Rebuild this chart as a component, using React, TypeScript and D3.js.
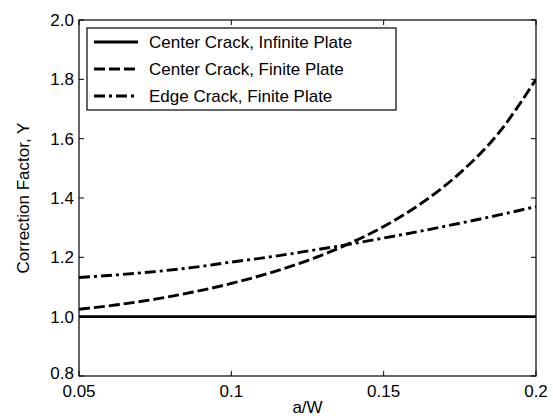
import React from 'react';
import * as d3 from 'd3';

// a/W sample points
const aw = [0.05, 0.0625, 0.075, 0.0875, 0.1, 0.1125, 0.125, 0.1375, 0.15, 0.1625, 0.175, 0.1875, 0.2];
const infinitePlate = [1, 1, 1, 1, 1, 1, 1, 1, 1, 1, 1, 1, 1];
const centerFinite = [1.025, 1.04, 1.059, 1.083, 1.112, 1.147, 1.189, 1.241, 1.304, 1.383, 1.484, 1.616, 1.8];
const edgeFinite = [1.132, 1.141, 1.152, 1.166, 1.184, 1.201, 1.221, 1.242, 1.265, 1.289, 1.315, 1.342, 1.371];

const xTicks = [0.05, 0.1, 0.15, 0.2];
const xTickLabels = ['0.05', '0.1', '0.15', '0.2'];
const yTicks = [0.8, 1.0, 1.2, 1.4, 1.6, 1.8, 2.0];
const seriesNames = ['Center Crack, Infinite Plate', 'Center Crack, Finite Plate', 'Edge Crack, Finite Plate'];

const W = 553;
const H = 416;
const margin = { left: 79, right: 17, top: 20, bottom: 40 };
const FONT = 'Liberation Sans, Arial, Helvetica, sans-serif';

const dashes = ['none', '11,4', '11,4,3,4'];

export default function App() {
  const x = d3.scaleLinear().domain([0.05, 0.2]).range([margin.left, W - margin.right]);
  const y = d3.scaleLinear().domain([0.8, 2.0]).range([H - margin.bottom, margin.top]);

  const line = d3.line<[number, number]>()
    .x(d => x(d[0]))
    .y(d => y(d[1]))
    .curve(d3.curveMonotoneX);

  const series = [infinitePlate, centerFinite, edgeFinite].map(vals =>
    aw.map((a, i) => [a, vals[i]] as [number, number])
  );

  const [x0, x1] = x.range();
  const [y0, y1] = y.range();
  const tickLen = 5;

  return (
    <div style={{ position: 'absolute', left: 0, top: 0 }}>
      <svg width={W} height={H} style={{ display: 'block', background: '#fff' }} fontFamily={FONT}>
        <defs>
          <clipPath id="plot">
            <rect x={x0} y={y1} width={x1 - x0} height={y0 - y1} />
          </clipPath>
        </defs>

        {/* data lines */}
        <g clipPath="url(#plot)">
          {series.map((s, i) => (
            <path key={i} d={line(s) || ''} fill="none" stroke="#000" strokeWidth={2.9}
              strokeDasharray={dashes[i]} />
          ))}
        </g>

        {/* axes box */}
        <rect x={x0} y={y1} width={x1 - x0} height={y0 - y1} fill="none" stroke="#000" strokeWidth={1.2} />

        {/* x ticks */}
        {xTicks.map((t, i) => (
          <g key={'x' + i}>
            <line x1={x(t)} x2={x(t)} y1={y0} y2={y0 - tickLen} stroke="#000" />
            <line x1={x(t)} x2={x(t)} y1={y1} y2={y1 + tickLen} stroke="#000" />
            <text x={x(t)} y={y0 + 21} textAnchor="middle" fontSize={17}>{xTickLabels[i]}</text>
          </g>
        ))}

        {/* y ticks */}
        {yTicks.map((t, i) => (
          <g key={'y' + i}>
            <line x1={x0} x2={x0 + tickLen} y1={y(t)} y2={y(t)} stroke="#000" />
            <line x1={x1} x2={x1 - tickLen} y1={y(t)} y2={y(t)} stroke="#000" />
            <text x={x0 - 5} y={y(t) - (t === 0.8 ? 3 : 0)} dy="0.35em" textAnchor="end" fontSize={17}>{t.toFixed(1)}</text>
          </g>
        ))}

        {/* axis labels */}
        <text x={(x0 + x1) / 2} y={H - 3} textAnchor="middle" fontSize={17}>a/W</text>
        <text transform={`translate(29, ${(y0 + y1) / 2}) rotate(-90)`} textAnchor="middle" fontSize={17}>
          Correction Factor, Y
        </text>

        {/* legend */}
        <g transform="translate(87, 28)">
          <rect x={0} y={0} width={309} height={82} fill="#fff" stroke="#000" strokeWidth={1.2} />
          {seriesNames.map((name, i) => (
            <g key={name} transform={`translate(0, ${14 + i * 27})`}>
              <line x1={7} x2={51} y1={0} y2={0} stroke="#000" strokeWidth={2.9} strokeDasharray={dashes[i]} />
              <text x={62} y={0} dy="0.35em" fontSize={17}>{name}</text>
            </g>
          ))}
        </g>
      </svg>
    </div>
  );
}
